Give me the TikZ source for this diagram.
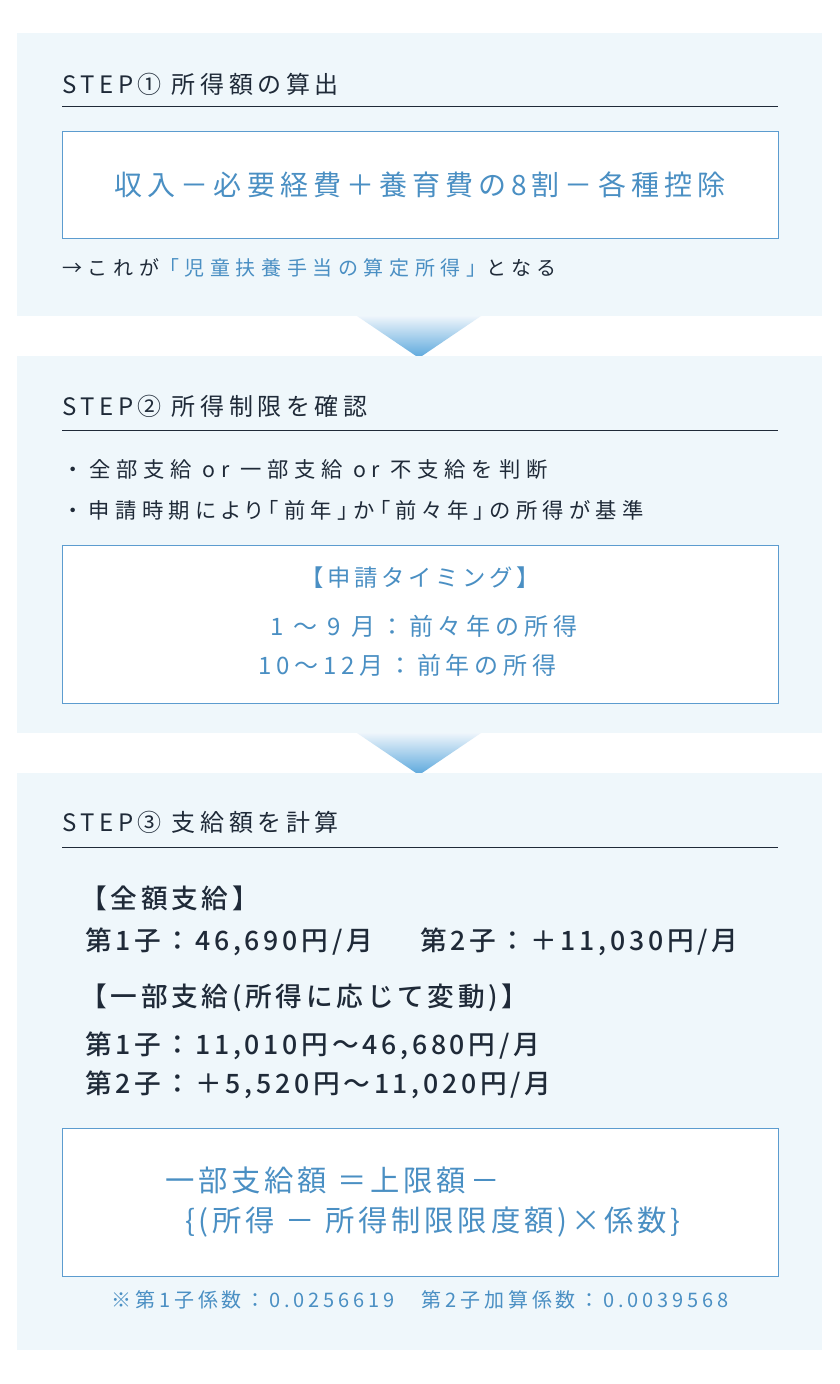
\documentclass[tikz,border=0pt]{standalone}
\usepackage{fontspec}
\setmainfont{Noto Sans CJK JP}[BoldFont={Noto Sans CJK JP Medium}]
\usetikzlibrary{positioning}

\definecolor{panelbg}{HTML}{EFF7FB}
\definecolor{inkdark}{HTML}{1F2A38}
\definecolor{inkblue}{HTML}{4A8FC3}
\definecolor{boxline}{HTML}{5C9CCF}
\definecolor{arrowblue}{HTML}{5AA7DC}
\definecolor{arrowpale}{HTML}{EEF5FB}

\newcommand{\jpsize}[2]{\fontsize{#1}{#1}\selectfont\addfontfeature{LetterSpace=#2}}

\tikzset{
	panel/.style={fill=panelbg, draw=none},
	framebox/.style={fill=white, draw=boxline, line width=0.75pt},
	headrule/.style={draw=inkdark, line width=0.75pt},
	downarrow/.style={top color=arrowpale, bottom color=arrowblue, draw=none},
	steptitle/.style={anchor=west, inner sep=0pt, text=inkdark, font=\jpsize{18pt}{19}},
	bodytext/.style={anchor=west, inner sep=0pt, text=inkdark, font=\jpsize{16pt}{27}},
	bluetext/.style={inner sep=0pt, text=inkblue},
	amounttext/.style={anchor=west, inner sep=0pt, text=inkdark, font=\bfseries\jpsize{20pt}{14}}
}

\begin{document}
\begin{tikzpicture}[x=0.75pt,y=-0.75pt]
		\useasboundingbox (0,0) rectangle (839,1384);
		\fill[white] (0,0) rectangle (839,1384);

		% STEP 1
		\fill[panel] (17,33) rectangle (822,316);
		\node[steptitle] (title1) at (62,84) {STEP① 所得額の算出};
		\draw[headrule] (62,107) -- (778,107);
		\draw[framebox] (62,132) rectangle (778,238);
		\node[bluetext, font=\jpsize{21pt}{18}] (calc) at (420,185) {収入－必要経費＋養育費の8割－各種控除};
		\node[bodytext, font=\jpsize{15pt}{28}] (note1) at (62,268) {→これが{\color{inkblue}「児童扶養手当の算定所得」}となる};
		\shade[downarrow] (357,316) -- (481,316) -- (419,358) -- cycle;

		% STEP 2
		\fill[panel] (17,356) rectangle (822,733);
		\node[steptitle] (title2) at (62,406) {STEP② 所得制限を確認};
		\draw[headrule] (62,430) -- (778,430);
		\node[bodytext] (bullet1) at (62,469) {・全部支給 or 一部支給 or 不支給を判断};
		\node[bodytext] (bullet2) at (62,510) {・\hspace{4pt}{\addfontfeature{RawFeature=+palt,LetterSpace=25}申請時期により「前年」か「前々年」の所得が基準}};
		\draw[framebox] (62,545) rectangle (778,703);
		\node[bluetext, font=\jpsize{17.5pt}{16}] (timing) at (420,578) {【申請タイミング】};
		\node[bluetext, anchor=west, font=\jpsize{18pt}{20}] (early) at (270,626) {1 ～ 9 月：前々年の所得};
		\node[bluetext, anchor=west, font=\jpsize{18pt}{20}] (late) at (258,665) {10～12月：前年の所得};
		\shade[downarrow] (357,733) -- (481,733) -- (419,775) -- cycle;

		% STEP 3
		\fill[panel] (17,773) rectangle (822,1350);
		\node[steptitle] (title3) at (62,822) {STEP③ 支給額を計算};
		\draw[headrule] (62,847) -- (778,847);
		\node[amounttext] (fullhead) at (80,898) {【全額支給】};
		\node[amounttext] (fullfirst) at (85,942) {第1子：46,690円/月};
		\node[amounttext] (fullsecond) at (420,942) {第2子：＋11,030円/月};
		\node[amounttext] (parthead) at (80,998) {【一部支給(所得に応じて変動)】};
		\node[amounttext] (partfirst) at (85,1046) {第1子：11,010円～46,680円/月};
		\node[amounttext] (partsecond) at (85,1085) {第2子：＋5,520円～11,020円/月};
		\draw[framebox] (62,1128) rectangle (778,1276);
		\node[bluetext, anchor=west, font=\jpsize{22pt}{13}] (formula1) at (165,1180) {一部支給額 ＝上限額－};
		\node[bluetext, anchor=west, font=\jpsize{22pt}{13}] (formula2) at (185,1222) {\{(所得 － 所得制限限度額)×係数\}};
		\node[bluetext, font=\jpsize{15pt}{19}] (coef) at (420,1300) {※第1子係数：0.0256619　第2子加算係数：0.0039568};
\end{tikzpicture}
\end{document}
